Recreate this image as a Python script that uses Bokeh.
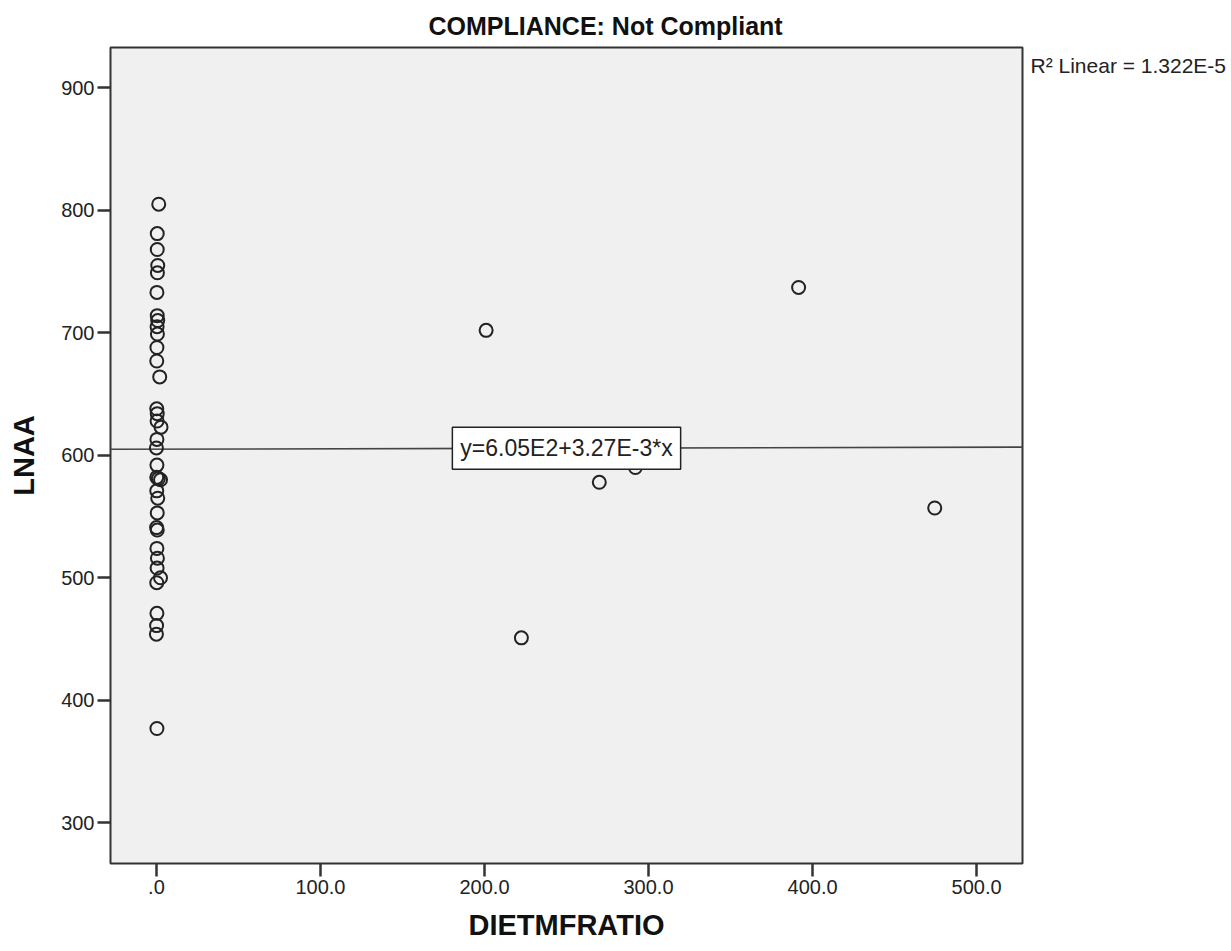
from bokeh.plotting import figure
from bokeh.models import Range1d, FixedTicker, Label, LinearAxis
from bokeh.embed import file_html
from bokeh.resources import INLINE

# ---- data ----
dietmfratio = [1.4, 0.5, 0.5, 0.8, 0.6, 0.3, 0.5, 0.8, 0.4, 0.6, 0.3, 0.2, 2.0,
               0.2, 0.5, 0.4, 2.8, 0.3, 0.0, 0.3, 0.2, 1.2, 2.5, 0.2, 0.8, 0.5,
               0.1, 0.5, 0.3, 0.6, 0.4, 2.5, 0.2, 0.3, 0.1, 0.0, 0.3,
               201.0, 222.5, 270.0, 292.0, 391.5, 474.5]
lnaa = [805, 781, 768, 755, 749, 733, 714, 710, 705, 699, 688, 677, 664,
        638, 634, 628, 623, 613, 606, 592, 582, 581, 580, 571, 565, 553,
        541, 539, 524, 516, 508, 500, 496, 471, 461, 454, 377,
        702, 451, 578, 590, 737, 557]

fit_intercept = 605.0
fit_slope = 3.27e-3
fit_label = "y=6.05E2+3.27E-3*x"
r2_label = "R\u00b2 Linear = 1.322E-5"
r2_label_y = 918
title_text = "COMPLIANCE: Not Compliant"
x_title = "DIETMFRATIO"
y_title = "LNAA"

x_ticks = [0, 100, 200, 300, 400, 500]
x_tick_labels = [".0", "100.0", "200.0", "300.0", "400.0", "500.0"]
y_ticks = [300, 400, 500, 600, 700, 800, 900]

X0, X1 = -28.0, 528.0
Y0, Y1 = 266.8, 932.9

FONT = "Liberation Sans"
INK = "#222222"

p = figure(width=1229, height=949, output_backend="svg", toolbar_location=None,
           x_range=Range1d(X0, X1), y_range=Range1d(Y0, Y1),
           min_border_left=110, min_border_right=205,
           min_border_top=47, min_border_bottom=86)

p.background_fill_color = "#f0f0f0"
p.border_fill_color = "white"
p.outline_line_color = "#333333"
p.outline_line_width = 2
p.grid.visible = False

p.title.text = title_text
p.title.text_font = FONT
p.title.text_font_style = "bold"
p.title.text_font_size = "25px"
p.title.text_color = "#111111"
p.title.align = "left"
p.title.offset = 318
p.title.standoff = 16

for ax in (p.xaxis[0], p.yaxis[0]):
    ax.axis_line_color = None
    ax.major_tick_line_color = "#333333"
    ax.major_tick_line_width = 2.5
    ax.major_tick_out = 13
    ax.major_tick_in = 0
    ax.minor_tick_line_color = None
    ax.major_label_text_font = FONT
    ax.major_label_text_font_size = "20px"
    ax.major_label_text_color = INK
    ax.axis_label_text_font = FONT
    ax.axis_label_text_font_style = "bold"
    ax.axis_label_text_font_size = "29px"
    ax.axis_label_text_color = "#111111"

p.xaxis.ticker = FixedTicker(ticks=x_ticks)
p.xaxis.major_label_overrides = {t: l for t, l in zip(x_ticks, x_tick_labels)}
p.xaxis.major_label_standoff = 3
p.xaxis.axis_label = x_title
p.xaxis.axis_label_standoff = 12

p.yaxis.ticker = FixedTicker(ticks=y_ticks)
p.yaxis.major_label_standoff = 3
p.yaxis.axis_label = y_title
p.yaxis.axis_label_standoff = 18

# R² annotation as a single label on a right-hand axis
r2_axis = LinearAxis(ticker=FixedTicker(ticks=[r2_label_y]),
                     major_label_overrides={r2_label_y: r2_label},
                     axis_line_color=None, major_tick_line_color=None,
                     minor_tick_line_color=None, major_label_standoff=2,
                     major_label_text_font=FONT, major_label_text_font_size="21px",
                     major_label_text_color=INK)
p.add_layout(r2_axis, "right")

# regression line across the frame
p.line([X0, X1], [fit_intercept + fit_slope * X0, fit_intercept + fit_slope * X1],
       line_color="#444444", line_width=1.6)

p.scatter(dietmfratio, lnaa, marker="circle", size=13, fill_color=None,
          line_color=INK, line_width=2)

xc = (X0 + X1) / 2
p.add_layout(Label(x=xc, y=fit_intercept + fit_slope * xc, text=fit_label,
                   text_align="center", text_baseline="middle",
                   text_font=FONT, text_font_size="23px", text_color=INK,
                   background_fill_color="white", border_line_color="#222222",
                   border_line_width=1.5, padding=8))

open("out.html", "w").write(file_html(p, INLINE))
